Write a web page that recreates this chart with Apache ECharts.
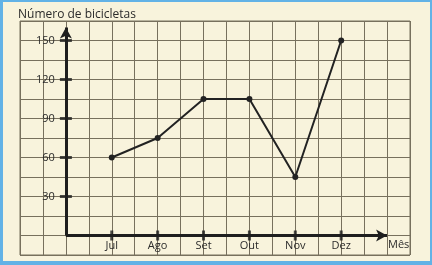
<!DOCTYPE html>
<html>
<head>
<meta charset="utf-8">
<script src="https://cdn.jsdelivr.net/npm/echarts@6/dist/echarts.min.js"></script>
<style>
html,body{margin:0;padding:0;background:#f8f3dc;}
#c{width:432px;height:265px;background:#f8f3dc;box-shadow:inset 3px 2px 0 0 #62b2e6, inset -2px -4px 0 0 #62b2e6;}
</style>
</head>
<body>
<div id="c"></div>
<script>
var months = ['Jul', 'Ago', 'Set', 'Out', 'Nov', 'Dez'];
var monthPos = [1, 2, 3, 4, 5, 6];
var bikes = [60, 75, 105, 105, 45, 150];
var yTicks = [30, 60, 90, 120, 150];
var yAxisTop = 160;
var xAxisEnd = 7;

var font = '"Open Sans", "Noto Sans", sans-serif';
var gridColor = '#77705d';
var chart = echarts.init(document.getElementById('c'), null, {renderer: 'canvas'});

var lineData = monthPos.map(function (m, i) { return [m, bikes[i]]; });
var yTickData = yTicks.map(function (v) { return [0, v]; });
var xTickData = monthPos.map(function (m) { return [m, 0]; });

chart.setOption({
  animation: false,
  backgroundColor: 'transparent',
  title: {
    text: 'Número de bicicletas',
    left: 13, top: 4,
    textStyle: {fontFamily: font, fontSize: 12, fontWeight: 'normal', color: '#2b2b2b'}
  },
  grid: {left: 20, right: 22, top: 21, bottom: 10, containLabel: false, outerBoundsMode: 'none',
         show: true, borderColor: gridColor, borderWidth: 1},
  xAxis: {
    type: 'value', min: -1, max: 7.5, interval: 0.5,
    offset: -19.5,
    axisLine: {show: false, onZero: false},
    axisTick: {show: false},
    splitLine: {show: true, lineStyle: {color: gridColor, width: 1}},
    axisLabel: {
      margin: 5, fontFamily: font, fontSize: 11, color: '#2b2b2b',
      formatter: function (v) {
        var i = monthPos.indexOf(v);
        return i >= 0 ? months[i] : '';
      }
    }
  },
  yAxis: {
    type: 'value', min: -15, max: 165, interval: 15,
    offset: -45.9,
    axisLine: {show: false, onZero: false},
    axisTick: {show: false},
    splitLine: {show: true, lineStyle: {color: gridColor, width: 1}},
    axisLabel: {
      margin: 11, fontFamily: font, fontSize: 11, color: '#2b2b2b',
      formatter: function (v) { return yTicks.indexOf(v) >= 0 ? String(v) : ''; }
    }
  },
  graphic: [{
    type: 'text', left: 388, top: 239,
    style: {text: 'Mês', fontFamily: font, fontSize: 11, fill: '#2b2b2b'}
  }],
  series: [
    {
      type: 'line', data: [], silent: true,
      markLine: {
        silent: true, symbol: ['none', 'arrow'], symbolSize: [9, 11],
        label: {show: false},
        lineStyle: {color: '#1e1e1e', width: 3, type: 'solid'},
        data: [
          [{coord: [0, 0]}, {coord: [0, yAxisTop]}],
          [{coord: [0, 0]}, {coord: [xAxisEnd, 0]}]
        ]
      }
    },
    {
      type: 'scatter', data: yTickData, symbol: 'rect', symbolSize: [12, 3],
      itemStyle: {color: '#1e1e1e'}, silent: true
    },
    {
      type: 'scatter', data: xTickData, symbol: 'rect', symbolSize: [3, 10],
      itemStyle: {color: '#1e1e1e'}, silent: true
    },
    {
      type: 'line', data: lineData, symbol: 'circle', symbolSize: 6,
      lineStyle: {color: '#222', width: 2},
      itemStyle: {color: '#222'}
    }
  ]
});
</script>
</body>
</html>
